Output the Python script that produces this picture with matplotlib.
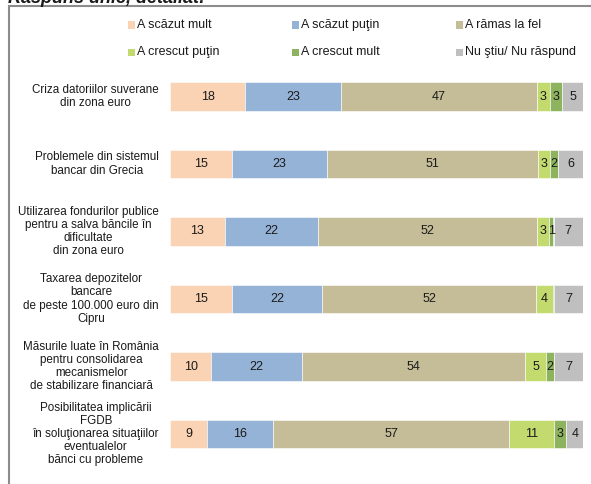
import matplotlib
matplotlib.use("Agg")
import matplotlib.pyplot as plt
from matplotlib.patches import Rectangle
import numpy as np

plt.rcParams['font.family'] = ['Liberation Sans', 'DejaVu Sans']

categories = [
    "Criza datoriilor suverane\ndin zona euro",
    "Problemele din sistemul\nbancar din Grecia",
    "Utilizarea fondurilor publice\npentru a salva băncile în\ndificultate\ndin zona euro",
    "Taxarea depozitelor\nbancare\nde peste 100.000 euro din\nCipru",
    "Măsurile luate în România\npentru consolidarea\nmecanismelor\nde stabilizare financiară",
    "Posibilitatea implicării\nFGDB\nîn soluţionarea situaţiilor\neventualelor\nbănci cu probleme",
]
series = ["A scăzut mult", "A scăzut puţin", "A rămas la fel",
          "A crescut puţin", "A crescut mult", "Nu ştiu/ Nu răspund"]
colors = ["#FAD3B4", "#95B3D7", "#C4BD97", "#C3DA6F", "#8DB35E", "#BFBFBF"]

scazut_mult = [18, 15, 13, 15, 10, 9]
scazut_putin = [23, 23, 22, 22, 22, 16]
ramas_la_fel = [47, 51, 52, 52, 54, 57]
crescut_putin = [3, 3, 3, 4, 5, 11]
crescut_mult = [3, 2, 1, 0.4, 2, 3]
nu_stiu = [5, 6, 7, 7, 7, 4]

data = np.array([scazut_mult, scazut_putin, ramas_la_fel,
                 crescut_putin, crescut_mult, nu_stiu], dtype=float)
totals = data.sum(axis=0)
pct = data / totals * 100

W, H = 591, 484
fig = plt.figure(figsize=(W / 100, H / 100), dpi=100)

# axes placement
ax_left, ax_right = 170 / W, 583 / W
ax_top, ax_bot = 1 - 62.75 / H, 1 - 467.75 / H
ax = fig.add_axes([ax_left, ax_bot, ax_right - ax_left, ax_top - ax_bot])

y = np.arange(len(categories))
left = np.zeros(len(categories))
for i, (name, col) in enumerate(zip(series, colors)):
    bars = ax.barh(y, pct[i], left=left, height=0.415, color=col,
                   edgecolor='white', linewidth=0.4, label=name)
    for j, b in enumerate(bars):
        v = data[i][j]
        if v >= 1:
            ax.text(left[j] + pct[i][j] / 2, y[j], f"{v:g}", ha='center',
                    va='center', fontsize=9, color='#1a1a1a')
    left += pct[i]

ax.set_xlim(0, 100)
ax.set_ylim(len(categories) - 0.5, -0.5)
ax.axis('off')

for j, cat in enumerate(categories):
    ax.text(-11 / 413 * 100, y[j], cat, ha='right', va='center',
            multialignment='center', fontsize=8.4, color='#1a1a1a',
            linespacing=1.13, clip_on=False)

# legend (manual)
leg_x = [128, 292, 456]
leg_y = [25, 52]
for k, (name, col) in enumerate(zip(series, colors)):
    cx = leg_x[k % 3]
    cy = leg_y[k // 3]
    fig.patches.append(Rectangle(((cx) / W, 1 - (cy + 3.5) / H), 7 / W, 7 / H,
                                 transform=fig.transFigure, facecolor=col,
                                 edgecolor='none'))
    fig.text((cx + 9) / W, 1 - cy / H, name, ha='left', va='center',
             fontsize=9, color='#1a1a1a')

# frame
fig.patches.append(Rectangle((8.5 / W, -0.05), 1.1, 1 - 5.5 / H + 0.05,
                             transform=fig.transFigure, facecolor='none',
                             edgecolor='#8c8c8c', linewidth=1.5, clip_on=False))

# cut-off title (partly outside the picture, as in the reference)
fig.text(8 / W, 1 - 3 / H, "Răspuns unic, detaliat:", ha='left', va='baseline',
         fontsize=13, fontweight='bold', style='italic', color='#1a1a1a')

fig.savefig("out.png", dpi=100)
